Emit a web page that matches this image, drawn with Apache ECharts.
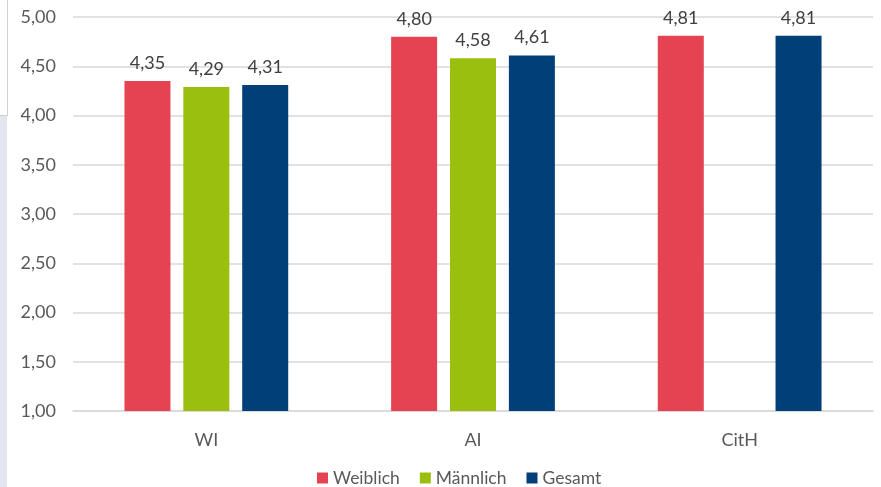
<!DOCTYPE html>
<html><head><meta charset="utf-8">
<script src="https://cdn.jsdelivr.net/npm/echarts@6/dist/echarts.min.js"></script>
<style>html,body{margin:0;padding:0;background:#fff}#c{width:881px;height:487px}</style>
</head><body><div id="c"></div>
<script>
const categories = ['WI', 'AI', 'CitH'];
const weiblich = [4.35, 4.80, 4.81];
const maennlich = [4.29, 4.58, null];
const gesamt = [4.31, 4.61, 4.81];
const seriesNames = ['Weiblich', 'Männlich', 'Gesamt'];
const colors = ['#e54352', '#9bbf0f', '#003f78'];
const font = 'Lato, Open Sans, sans-serif';
const fmt = v => v.toFixed(2).replace('.', ',');
const chart = echarts.init(document.getElementById('c'));
const mk = (name, data, color) => ({
  name, type: 'bar', data, barWidth: 46, barGap: '28%',
  itemStyle: { color },
  label: { show: true, position: 'top', distance: 9, color: '#404040', fontSize: 18, fontFamily: font,
    formatter: p => p.value == null ? '' : fmt(p.value) }
});
chart.setOption({
  animation: false,
  color: colors,
  graphic: [
    { type: 'rect', shape: { x: 0, y: 115, width: 7, height: 372 }, style: { fill: '#e3e6f0' } },
    { type: 'line', shape: { x1: 7.5, y1: 0, x2: 7.5, y2: 115 }, style: { stroke: '#d0d0d0', lineWidth: 1 } },
    { type: 'line', shape: { x1: 0, y1: 115.5, x2: 8, y2: 115.5 }, style: { stroke: '#d0d0d0', lineWidth: 1 } }
  ],
  grid: { left: 73, right: 8, top: 17, bottom: 76, containLabel: false },
  legend: {
    top: 464, left: 312, itemWidth: 11, itemHeight: 11, itemGap: 20,
    icon: 'rect',
    textStyle: { color: '#595959', fontSize: 17.5, fontFamily: font }
  },
  xAxis: {
    type: 'category', data: categories,
    axisLine: { lineStyle: { color: '#d9d9d9', width: 1.5 } },
    axisTick: { show: false },
    axisLabel: { color: '#595959', fontSize: 18, fontFamily: font, margin: 20 }
  },
  yAxis: {
    type: 'value', min: 1, max: 5, interval: 0.5,
    axisLine: { show: false }, axisTick: { show: false },
    splitLine: { lineStyle: { color: '#d9d9d9', width: 1.5 } },
    axisLabel: { color: '#595959', fontSize: 18, fontFamily: font, margin: 17, formatter: fmt }
  },
  series: [mk(seriesNames[0], weiblich, colors[0]), mk(seriesNames[1], maennlich, colors[1]), mk(seriesNames[2], gesamt, colors[2])]
});
</script></body></html>
